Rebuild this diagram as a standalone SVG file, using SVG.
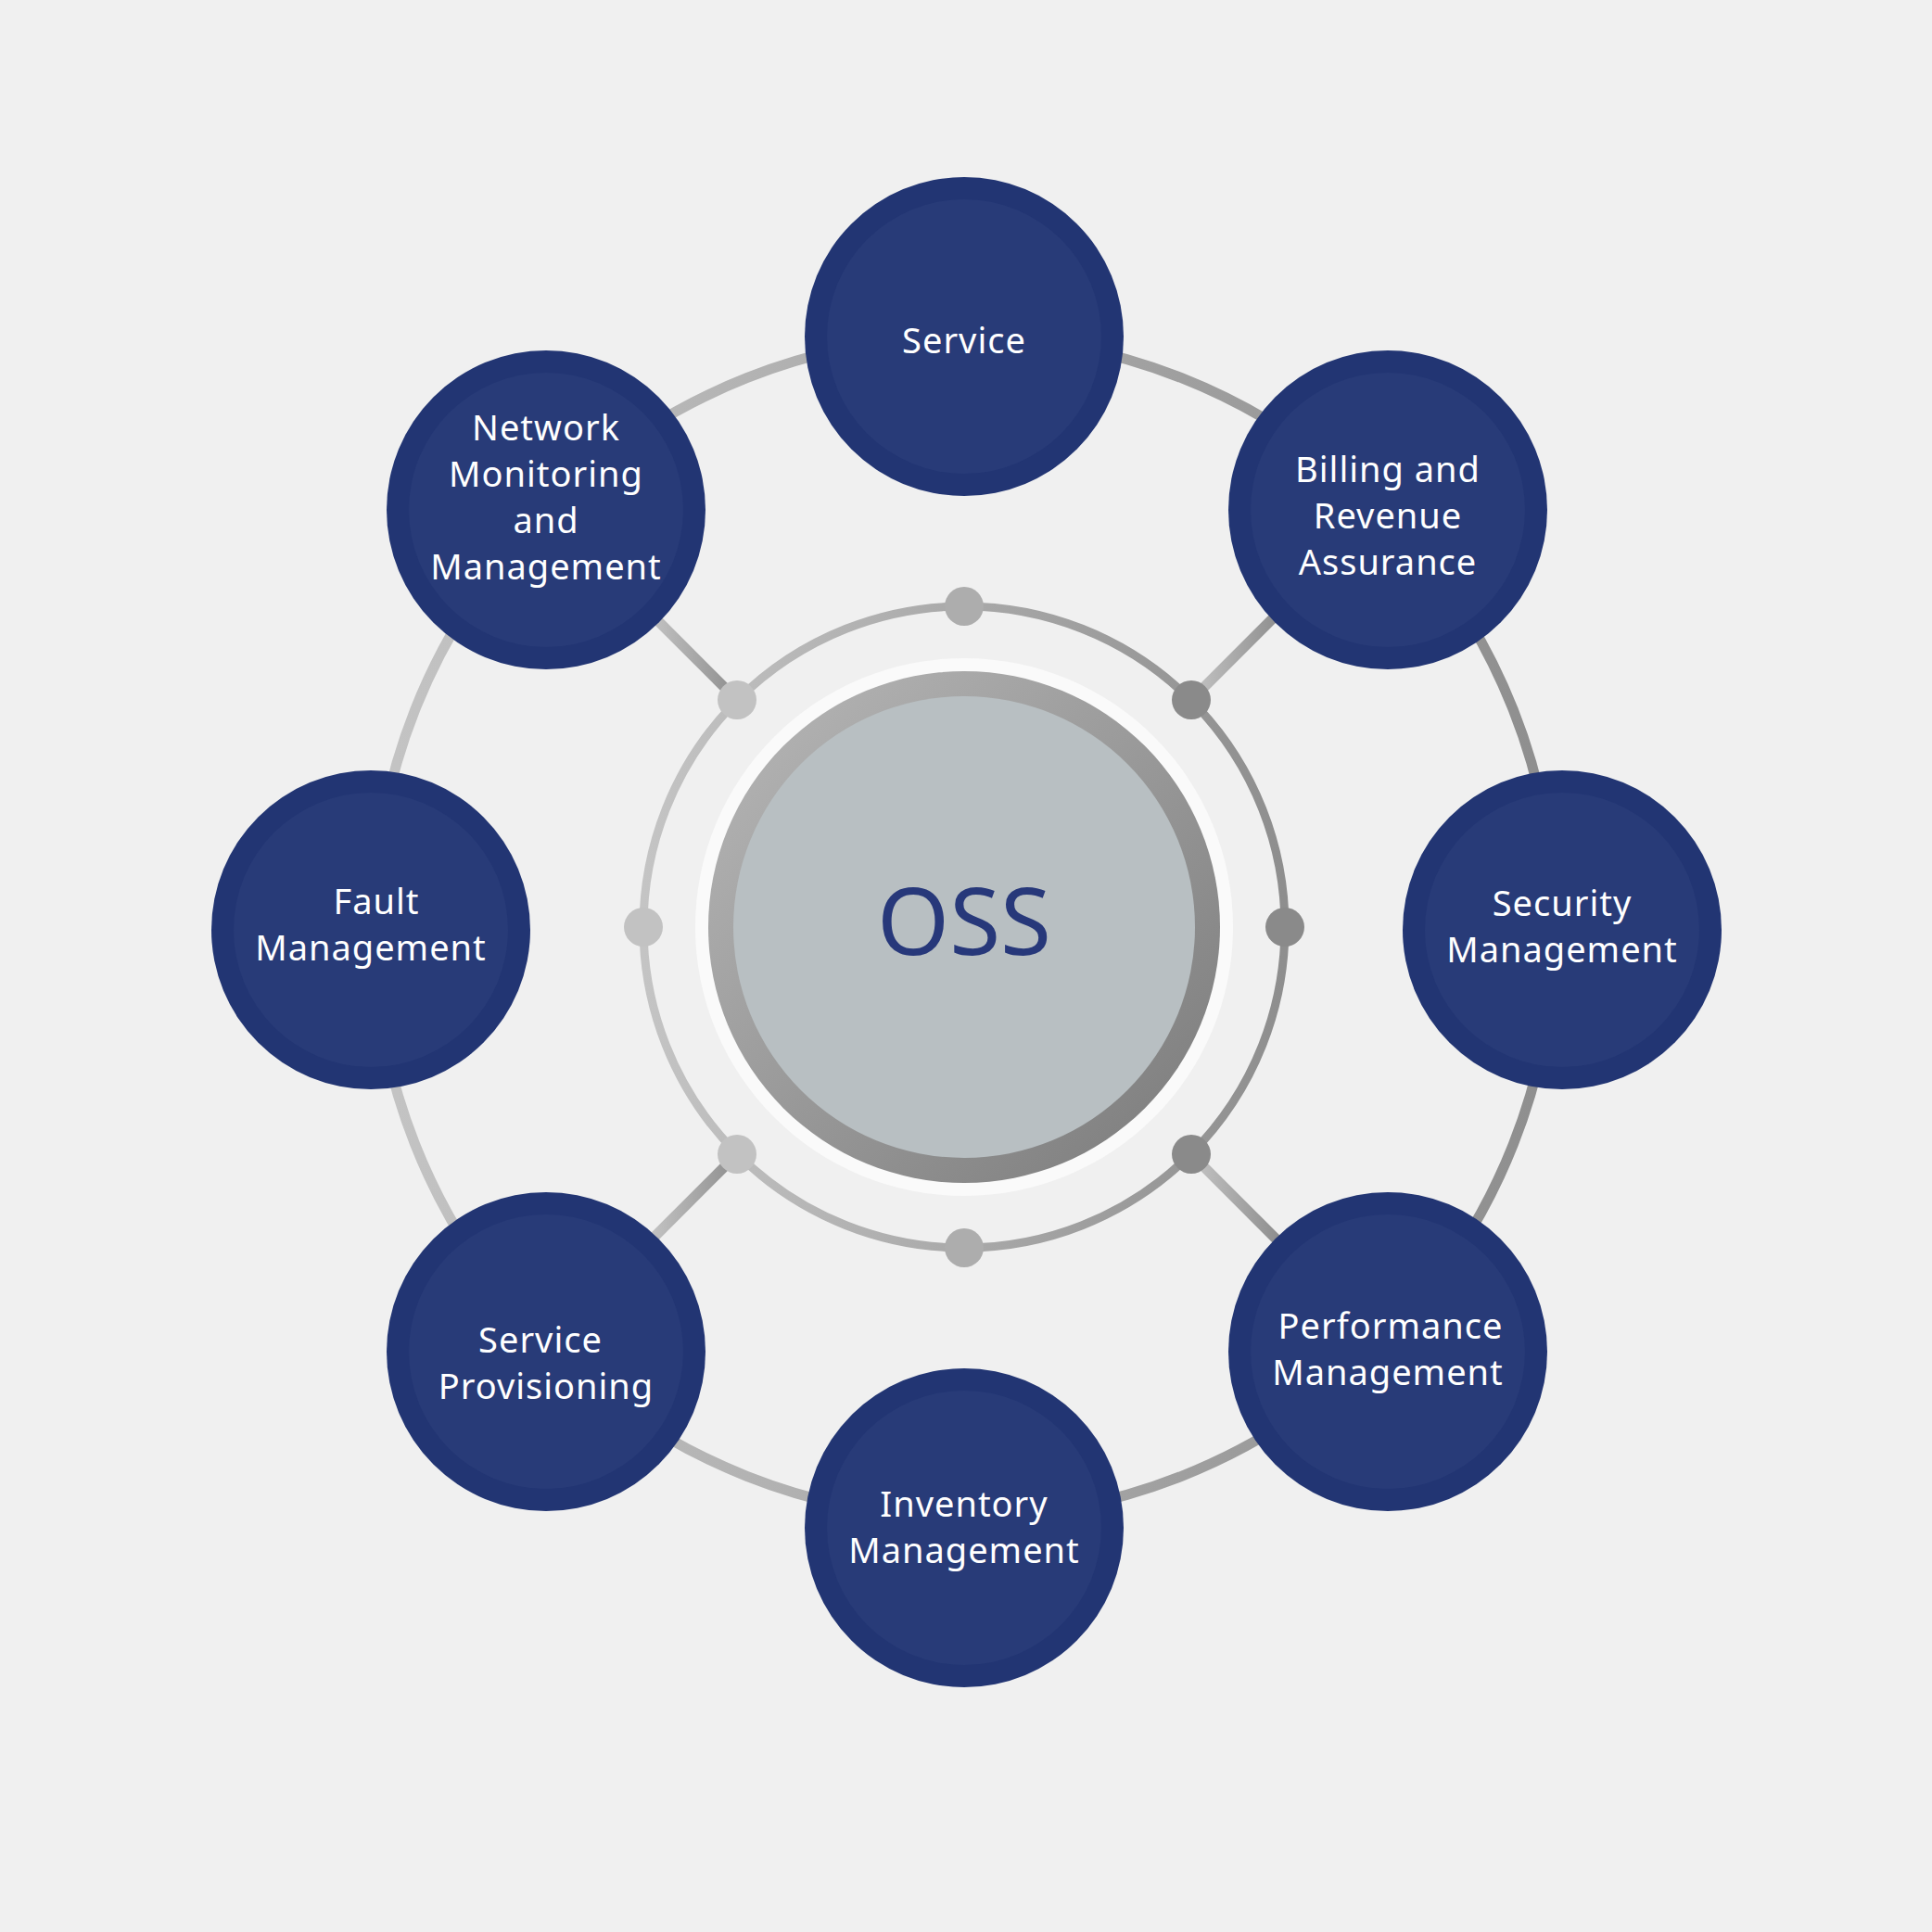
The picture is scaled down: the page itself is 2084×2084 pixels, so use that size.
<svg xmlns="http://www.w3.org/2000/svg" width="2084" height="2084" viewBox="0 0 2084 2084">
<defs>
<linearGradient id="g" x1="0" y1="0" x2="1" y2="0"><stop offset="0" stop-color="#c4c4c4"/><stop offset="1" stop-color="#8e8e8e"/></linearGradient>
<linearGradient id="g2" x1="0" y1="0" x2="1" y2="1"><stop offset="0" stop-color="#b8b8b8"/><stop offset="1" stop-color="#7a7a7a"/></linearGradient>
<style>
.n{fill:#223573}.ni{fill:#283b78}
.t{font-family:"Noto Sans",sans-serif;font-size:38px;fill:#fff;text-anchor:middle;letter-spacing:1px}
.c{stroke:url(#g);stroke-width:11;fill:none}
</style>
</defs>
<rect width="2084" height="2084" fill="#f0f0f0"/>
<g id="connectors">
<circle cx="1040" cy="1000" r="637" fill="none" stroke="url(#g)" stroke-width="11"/>
<circle cx="1040" cy="1000" r="346" fill="none" stroke="url(#g)" stroke-width="9"/>
<g stroke="url(#g)" stroke-width="11">
<line x1="1040" y1="654" x2="1040" y2="500"/>
<line x1="1285" y1="755" x2="1380" y2="660"/>
<line x1="1386" y1="1000" x2="1520" y2="1000"/>
<line x1="1285" y1="1245" x2="1380" y2="1340"/>
<line x1="1040" y1="1346" x2="1040" y2="1500"/>
<line x1="795" y1="1245" x2="700" y2="1340"/>
<line x1="694" y1="1000" x2="560" y2="1000"/>
<line x1="795" y1="755" x2="700" y2="660"/>
</g>
<g>
<circle cx="1040" cy="654" r="21" fill="#adadad"/>
<circle cx="1285" cy="755" r="21" fill="#8a8a8a"/>
<circle cx="1386" cy="1000" r="21" fill="#8a8a8a"/>
<circle cx="1285" cy="1245" r="21" fill="#8a8a8a"/>
<circle cx="1040" cy="1346" r="21" fill="#adadad"/>
<circle cx="795" cy="1245" r="21" fill="#c2c2c2"/>
<circle cx="694" cy="1000" r="21" fill="#c2c2c2"/>
<circle cx="795" cy="755" r="21" fill="#c2c2c2"/>
</g>
</g>
<g id="oss">
<circle cx="1040" cy="1000" r="290" fill="#fafafa"/>
<circle cx="1040" cy="1000" r="276" fill="url(#g2)"/>
<circle cx="1040" cy="1000" r="249" fill="#b8bfc2"/>
<text x="1040" y="1030" font-family="Noto Sans,sans-serif" font-size="100" fill="#27387a" text-anchor="middle">OSS</text>
</g>
<g id="n1"><circle cx="1040" cy="363" r="172" class="n"/><circle cx="1040" cy="363" r="148" class="ni"/><text class="t" x="1040" y="381">Service</text></g>
<g id="n2"><circle cx="1497" cy="550" r="172" class="n"/><circle cx="1497" cy="550" r="148" class="ni"/><text class="t" x="1497" y="520">Billing and</text><text class="t" x="1497" y="570">Revenue</text><text class="t" x="1497" y="620">Assurance</text></g>
<g id="n3"><circle cx="1685" cy="1003" r="172" class="n"/><circle cx="1685" cy="1003" r="148" class="ni"/><text class="t" x="1685" y="988">Security</text><text class="t" x="1685" y="1038">Management</text></g>
<g id="n4"><circle cx="1497" cy="1458" r="172" class="n"/><circle cx="1497" cy="1458" r="148" class="ni"/><text class="t" x="1500" y="1444">Performance</text><text class="t" x="1497" y="1494">Management</text></g>
<g id="n5"><circle cx="1040" cy="1648" r="172" class="n"/><circle cx="1040" cy="1648" r="148" class="ni"/><text class="t" x="1040" y="1636">Inventory</text><text class="t" x="1040" y="1686">Management</text></g>
<g id="n6"><circle cx="589" cy="1458" r="172" class="n"/><circle cx="589" cy="1458" r="148" class="ni"/><text class="t" x="583" y="1459">Service</text><text class="t" x="589" y="1509">Provisioning</text></g>
<g id="n7"><circle cx="400" cy="1003" r="172" class="n"/><circle cx="400" cy="1003" r="148" class="ni"/><text class="t" x="406" y="986">Fault</text><text class="t" x="400" y="1036">Management</text></g>
<g id="n8"><circle cx="589" cy="550" r="172" class="n"/><circle cx="589" cy="550" r="148" class="ni"/><text class="t" x="589" y="475">Network</text><text class="t" x="589" y="525">Monitoring</text><text class="t" x="589" y="575">and</text><text class="t" x="589" y="625">Management</text></g>
</svg>
